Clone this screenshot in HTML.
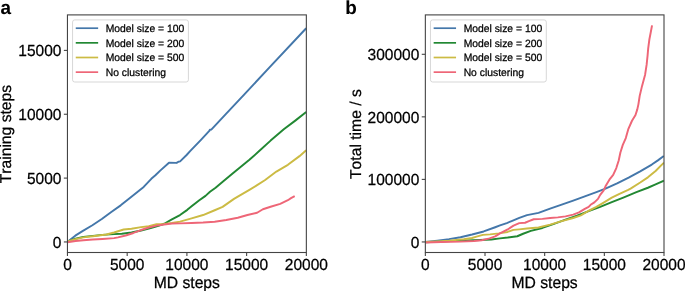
<!DOCTYPE html>
<html lang="en">
<head>
<meta charset="utf-8">
<title>Training steps and total time vs MD steps</title>
<style>
html,body{margin:0;padding:0;background:#ffffff;}
body{width:685px;height:291px;overflow:hidden;}
svg{display:block;font-family:"Liberation Sans", Arial, Helvetica, sans-serif;will-change:transform;opacity:0.999;text-rendering:geometricPrecision;font-kerning:none;}
</style>
</head>
<body>
<svg width="685" height="291" viewBox="0 0 685 291">
<rect x="0" y="0" width="685" height="291" fill="#ffffff"/>
<clipPath id="ca"><rect x="67.45" y="14.9" width="238.90000000000003" height="237.6"/></clipPath>
<g clip-path="url(#ca)">
<polyline points="67.45,241.95 75.30,235.65 82.90,230.85 92.40,225.25 101.80,218.95 111.30,211.95 120.70,205.35 130.20,197.85 139.60,190.15 143.70,186.95 151.30,178.85 155.40,175.30 160.20,170.65 169.00,162.70 176.60,162.90 178.40,161.75 180.10,161.40 186.60,155.00 190.10,151.15 200.50,140.35 209.30,130.95 209.90,129.75 211.30,129.60 226.25,113.65 244.60,94.15 270.20,66.65 306.20,28.25" fill="none" stroke="#4477AA" stroke-width="1.95" stroke-linejoin="round" stroke-linecap="butt"/>
<polyline points="67.40,241.55 75.60,238.75 83.30,236.85 92.90,235.85 102.50,234.85 114.10,234.15 121.80,233.75 131.50,232.55 141.10,230.45 150.70,228.15 158.40,225.85 164.20,223.75 171.90,219.45 180.00,215.05 187.30,209.85 191.60,206.35 199.30,200.25 205.50,195.85 210.00,191.80 215.60,187.75 223.30,181.35 232.00,174.05 237.80,169.15 249.40,159.85 260.00,150.35 270.60,140.60 284.10,129.05 295.60,120.35 306.20,112.05" fill="none" stroke="#228833" stroke-width="1.95" stroke-linejoin="round" stroke-linecap="butt"/>
<polyline points="67.40,241.45 75.60,239.15 83.30,237.35 92.90,236.25 106.40,234.55 114.10,232.55 123.70,229.45 131.50,228.75 141.10,227.15 148.80,226.25 156.50,224.25 164.20,223.95 171.90,222.95 180.00,221.65 191.60,218.35 203.10,215.05 214.70,210.25 222.60,206.85 234.00,198.85 237.80,196.60 249.40,189.85 257.10,185.15 264.80,180.25 276.40,171.55 287.90,164.80 299.50,156.15 306.20,150.35" fill="none" stroke="#CCBB44" stroke-width="1.95" stroke-linejoin="round" stroke-linecap="butt"/>
<polyline points="67.40,242.25 75.60,241.05 83.30,240.25 92.90,239.55 102.50,238.95 114.10,238.15 118.00,237.35 125.70,235.45 133.40,232.95 141.10,230.05 148.80,227.55 156.50,225.65 164.20,224.45 171.90,223.55 180.00,223.35 191.60,222.95 203.10,222.55 214.70,221.75 226.25,220.05 237.80,217.75 247.45,215.05 257.10,212.75 262.90,209.25 270.60,206.75 280.20,203.85 287.90,200.20 291.00,198.15 294.70,196.15" fill="none" stroke="#EE6677" stroke-width="1.95" stroke-linejoin="round" stroke-linecap="butt"/>
</g>
<rect x="67.45" y="14.9" width="238.90000000000003" height="237.6" fill="none" stroke="#444444" stroke-width="1.1"/>
<line x1="67.45" y1="252.5" x2="67.45" y2="256.1" stroke="#444444" stroke-width="1.1"/>
<text transform="translate(67.45,270.20) scale(1,1.035)" font-size="15.5" text-anchor="middle" fill="#000000" stroke="#000000" stroke-width="0.25" stroke-linejoin="round">0</text>
<line x1="127.18" y1="252.5" x2="127.18" y2="256.1" stroke="#444444" stroke-width="1.1"/>
<text transform="translate(127.18,270.20) scale(1,1.035)" font-size="15.5" text-anchor="middle" fill="#000000" stroke="#000000" stroke-width="0.25" stroke-linejoin="round">5000</text>
<line x1="186.9" y1="252.5" x2="186.9" y2="256.1" stroke="#444444" stroke-width="1.1"/>
<text transform="translate(186.90,270.20) scale(1,1.035)" font-size="15.5" text-anchor="middle" fill="#000000" stroke="#000000" stroke-width="0.25" stroke-linejoin="round">10000</text>
<line x1="246.62" y1="252.5" x2="246.62" y2="256.1" stroke="#444444" stroke-width="1.1"/>
<text transform="translate(246.62,270.20) scale(1,1.035)" font-size="15.5" text-anchor="middle" fill="#000000" stroke="#000000" stroke-width="0.25" stroke-linejoin="round">15000</text>
<line x1="306.35" y1="252.5" x2="306.35" y2="256.1" stroke="#444444" stroke-width="1.1"/>
<text transform="translate(306.35,270.20) scale(1,1.035)" font-size="15.5" text-anchor="middle" fill="#000000" stroke="#000000" stroke-width="0.25" stroke-linejoin="round">20000</text>
<line x1="63.85" y1="241.95" x2="67.45" y2="241.95" stroke="#444444" stroke-width="1.1"/>
<text transform="translate(61.40,247.60) scale(1,1.035)" font-size="15.5" text-anchor="end" fill="#000000" stroke="#000000" stroke-width="0.25" stroke-linejoin="round">0</text>
<line x1="63.85" y1="178.1" x2="67.45" y2="178.1" stroke="#444444" stroke-width="1.1"/>
<text transform="translate(61.40,183.75) scale(1,1.035)" font-size="15.5" text-anchor="end" fill="#000000" stroke="#000000" stroke-width="0.25" stroke-linejoin="round">5000</text>
<line x1="63.85" y1="114.25" x2="67.45" y2="114.25" stroke="#444444" stroke-width="1.1"/>
<text transform="translate(61.40,119.90) scale(1,1.035)" font-size="15.5" text-anchor="end" fill="#000000" stroke="#000000" stroke-width="0.25" stroke-linejoin="round">10000</text>
<line x1="63.85" y1="50.4" x2="67.45" y2="50.4" stroke="#444444" stroke-width="1.1"/>
<text transform="translate(61.40,56.05) scale(1,1.035)" font-size="15.5" text-anchor="end" fill="#000000" stroke="#000000" stroke-width="0.25" stroke-linejoin="round">15000</text>
<text transform="translate(186.80,287.70) scale(1,1.035)" font-size="15.7" text-anchor="middle" fill="#000000" stroke="#000000" stroke-width="0.25" stroke-linejoin="round">MD steps</text>
<text transform="translate(11.35,134.10) rotate(-90) scale(1,1.0)" font-size="15.7" text-anchor="middle" fill="#000000" stroke="#000000" stroke-width="0.25" stroke-linejoin="round">Training steps</text>
<text transform="translate(0.55,13.85) scale(1,1.0)" font-size="18.9" text-anchor="start" font-weight="bold" fill="#000000" stroke="#000000" stroke-width="0.08" stroke-linejoin="round">a</text>
<rect x="72.55" y="19.9" width="115.85" height="62.1" rx="2.2" ry="2.2" fill="#ffffff" fill-opacity="0.8" stroke="#d0d0d0" stroke-width="0.85"/>
<line x1="75.75" y1="28.2" x2="98.15" y2="28.2" stroke="#4477AA" stroke-width="1.7"/>
<text transform="translate(105.75,31.85) scale(1,1.02)" font-size="10.35" text-anchor="start" fill="#000000" stroke="#000000" stroke-width="0.25" stroke-linejoin="round">Model size = 100</text>
<line x1="75.75" y1="42.85" x2="98.15" y2="42.85" stroke="#228833" stroke-width="1.7"/>
<text transform="translate(105.75,46.50) scale(1,1.02)" font-size="10.35" text-anchor="start" fill="#000000" stroke="#000000" stroke-width="0.25" stroke-linejoin="round">Model size = 200</text>
<line x1="75.75" y1="57.5" x2="98.15" y2="57.5" stroke="#CCBB44" stroke-width="1.7"/>
<text transform="translate(105.75,61.15) scale(1,1.02)" font-size="10.35" text-anchor="start" fill="#000000" stroke="#000000" stroke-width="0.25" stroke-linejoin="round">Model size = 500</text>
<line x1="75.75" y1="72.15" x2="98.15" y2="72.15" stroke="#EE6677" stroke-width="1.7"/>
<text transform="translate(105.75,75.80) scale(1,1.02)" font-size="10.35" text-anchor="start" fill="#000000" stroke="#000000" stroke-width="0.25" stroke-linejoin="round">No clustering</text>
<clipPath id="cb"><rect x="425.35" y="14.9" width="238.64999999999998" height="237.6"/></clipPath>
<g clip-path="url(#cb)">
<polyline points="425.50,242.05 437.40,240.65 449.00,239.15 460.50,237.25 472.10,234.55 483.70,231.45 495.20,227.25 500.00,225.45 506.80,223.05 511.60,221.15 519.30,217.95 527.00,215.15 538.50,212.85 550.10,208.65 561.70,204.65 573.20,200.55 584.80,196.35 596.40,192.15 605.50,188.65 617.10,183.45 628.65,177.65 640.20,171.35 651.80,164.55 657.90,160.35 663.80,155.95" fill="none" stroke="#4477AA" stroke-width="1.95" stroke-linejoin="round" stroke-linecap="butt"/>
<polyline points="425.50,242.25 441.30,241.65 460.50,240.65 479.80,240.05 491.40,239.55 500.00,238.35 507.70,237.55 517.30,236.25 523.10,233.75 530.80,230.85 542.40,227.95 554.00,223.85 565.50,219.65 577.10,215.75 588.65,211.15 600.20,206.85 611.80,202.15 623.30,197.55 636.40,192.15 647.90,187.75 655.60,184.45 664.00,180.65" fill="none" stroke="#228833" stroke-width="1.95" stroke-linejoin="round" stroke-linecap="butt"/>
<polyline points="425.50,242.05 441.30,241.15 449.20,240.65 463.80,239.25 472.00,237.95 476.50,236.65 482.80,234.85 490.10,234.35 498.80,233.35 507.60,231.95 513.40,229.85 519.30,229.35 527.00,228.55 538.50,227.45 550.10,224.65 561.70,221.15 573.20,217.95 580.90,215.40 588.65,210.75 596.40,206.95 604.10,202.35 611.80,197.65 619.50,193.85 628.20,189.95 630.60,188.65 640.20,182.55 647.90,177.35 655.60,170.95 661.40,165.15 664.00,162.65" fill="none" stroke="#CCBB44" stroke-width="1.95" stroke-linejoin="round" stroke-linecap="butt"/>
<polyline points="425.50,242.45 441.30,242.05 460.50,241.65 474.00,241.05 481.70,240.25 489.50,238.35 495.20,236.45 500.00,233.45 507.70,229.45 513.50,225.65 519.30,223.15 525.05,222.75 528.90,221.15 533.70,219.25 542.40,218.85 550.10,217.95 557.80,217.35 565.50,216.35 573.20,214.65 579.00,212.35 584.80,208.85 588.65,206.85 590.60,204.80 594.40,202.35 598.00,198.85 600.20,194.85 603.70,190.35 605.50,186.35 609.40,179.65 613.20,174.85 616.30,168.05 618.70,160.45 620.40,152.55 622.80,144.85 625.80,138.05 628.20,129.40 632.00,120.75 635.50,114.95 637.30,109.35 638.40,104.35 639.70,95.85 642.00,86.15 645.10,74.65 646.60,64.95 647.60,55.35 648.20,48.35 649.40,39.25 650.90,31.55 652.05,25.35" fill="none" stroke="#EE6677" stroke-width="1.95" stroke-linejoin="round" stroke-linecap="butt"/>
</g>
<rect x="425.35" y="14.9" width="238.64999999999998" height="237.6" fill="none" stroke="#444444" stroke-width="1.1"/>
<line x1="425.35" y1="252.5" x2="425.35" y2="256.1" stroke="#444444" stroke-width="1.1"/>
<text transform="translate(425.35,270.20) scale(1,1.035)" font-size="15.5" text-anchor="middle" fill="#000000" stroke="#000000" stroke-width="0.25" stroke-linejoin="round">0</text>
<line x1="485.01" y1="252.5" x2="485.01" y2="256.1" stroke="#444444" stroke-width="1.1"/>
<text transform="translate(485.01,270.20) scale(1,1.035)" font-size="15.5" text-anchor="middle" fill="#000000" stroke="#000000" stroke-width="0.25" stroke-linejoin="round">5000</text>
<line x1="544.67" y1="252.5" x2="544.67" y2="256.1" stroke="#444444" stroke-width="1.1"/>
<text transform="translate(544.67,270.20) scale(1,1.035)" font-size="15.5" text-anchor="middle" fill="#000000" stroke="#000000" stroke-width="0.25" stroke-linejoin="round">10000</text>
<line x1="604.34" y1="252.5" x2="604.34" y2="256.1" stroke="#444444" stroke-width="1.1"/>
<text transform="translate(604.34,270.20) scale(1,1.035)" font-size="15.5" text-anchor="middle" fill="#000000" stroke="#000000" stroke-width="0.25" stroke-linejoin="round">15000</text>
<line x1="664.0" y1="252.5" x2="664.0" y2="256.1" stroke="#444444" stroke-width="1.1"/>
<text transform="translate(664.00,270.20) scale(1,1.035)" font-size="15.5" text-anchor="middle" fill="#000000" stroke="#000000" stroke-width="0.25" stroke-linejoin="round">20000</text>
<line x1="421.75" y1="241.95" x2="425.35" y2="241.95" stroke="#444444" stroke-width="1.1"/>
<text transform="translate(419.30,247.60) scale(1,1.035)" font-size="15.5" text-anchor="end" fill="#000000" stroke="#000000" stroke-width="0.25" stroke-linejoin="round">0</text>
<line x1="421.75" y1="179.4" x2="425.35" y2="179.4" stroke="#444444" stroke-width="1.1"/>
<text transform="translate(419.30,185.05) scale(1,1.035)" font-size="15.5" text-anchor="end" fill="#000000" stroke="#000000" stroke-width="0.25" stroke-linejoin="round">100000</text>
<line x1="421.75" y1="116.85" x2="425.35" y2="116.85" stroke="#444444" stroke-width="1.1"/>
<text transform="translate(419.30,122.50) scale(1,1.035)" font-size="15.5" text-anchor="end" fill="#000000" stroke="#000000" stroke-width="0.25" stroke-linejoin="round">200000</text>
<line x1="421.75" y1="54.3" x2="425.35" y2="54.3" stroke="#444444" stroke-width="1.1"/>
<text transform="translate(419.30,59.95) scale(1,1.035)" font-size="15.5" text-anchor="end" fill="#000000" stroke="#000000" stroke-width="0.25" stroke-linejoin="round">300000</text>
<text transform="translate(544.57,287.70) scale(1,1.035)" font-size="15.7" text-anchor="middle" fill="#000000" stroke="#000000" stroke-width="0.25" stroke-linejoin="round">MD steps</text>
<text transform="translate(360.55,134.10) rotate(-90) scale(1,1.0)" font-size="15.7" text-anchor="middle" fill="#000000" stroke="#000000" stroke-width="0.25" stroke-linejoin="round">Total time / s</text>
<text transform="translate(345.20,13.85) scale(1,1.0)" font-size="18.9" text-anchor="start" font-weight="bold" fill="#000000" stroke="#000000" stroke-width="0.08" stroke-linejoin="round">b</text>
<rect x="430.45000000000005" y="19.9" width="115.85" height="62.1" rx="2.2" ry="2.2" fill="#ffffff" fill-opacity="0.8" stroke="#d0d0d0" stroke-width="0.85"/>
<line x1="433.65000000000003" y1="28.2" x2="456.05" y2="28.2" stroke="#4477AA" stroke-width="1.7"/>
<text transform="translate(463.65,31.85) scale(1,1.02)" font-size="10.35" text-anchor="start" fill="#000000" stroke="#000000" stroke-width="0.25" stroke-linejoin="round">Model size = 100</text>
<line x1="433.65000000000003" y1="42.85" x2="456.05" y2="42.85" stroke="#228833" stroke-width="1.7"/>
<text transform="translate(463.65,46.50) scale(1,1.02)" font-size="10.35" text-anchor="start" fill="#000000" stroke="#000000" stroke-width="0.25" stroke-linejoin="round">Model size = 200</text>
<line x1="433.65000000000003" y1="57.5" x2="456.05" y2="57.5" stroke="#CCBB44" stroke-width="1.7"/>
<text transform="translate(463.65,61.15) scale(1,1.02)" font-size="10.35" text-anchor="start" fill="#000000" stroke="#000000" stroke-width="0.25" stroke-linejoin="round">Model size = 500</text>
<line x1="433.65000000000003" y1="72.15" x2="456.05" y2="72.15" stroke="#EE6677" stroke-width="1.7"/>
<text transform="translate(463.65,75.80) scale(1,1.02)" font-size="10.35" text-anchor="start" fill="#000000" stroke="#000000" stroke-width="0.25" stroke-linejoin="round">No clustering</text>
</svg>
</body>
</html>
